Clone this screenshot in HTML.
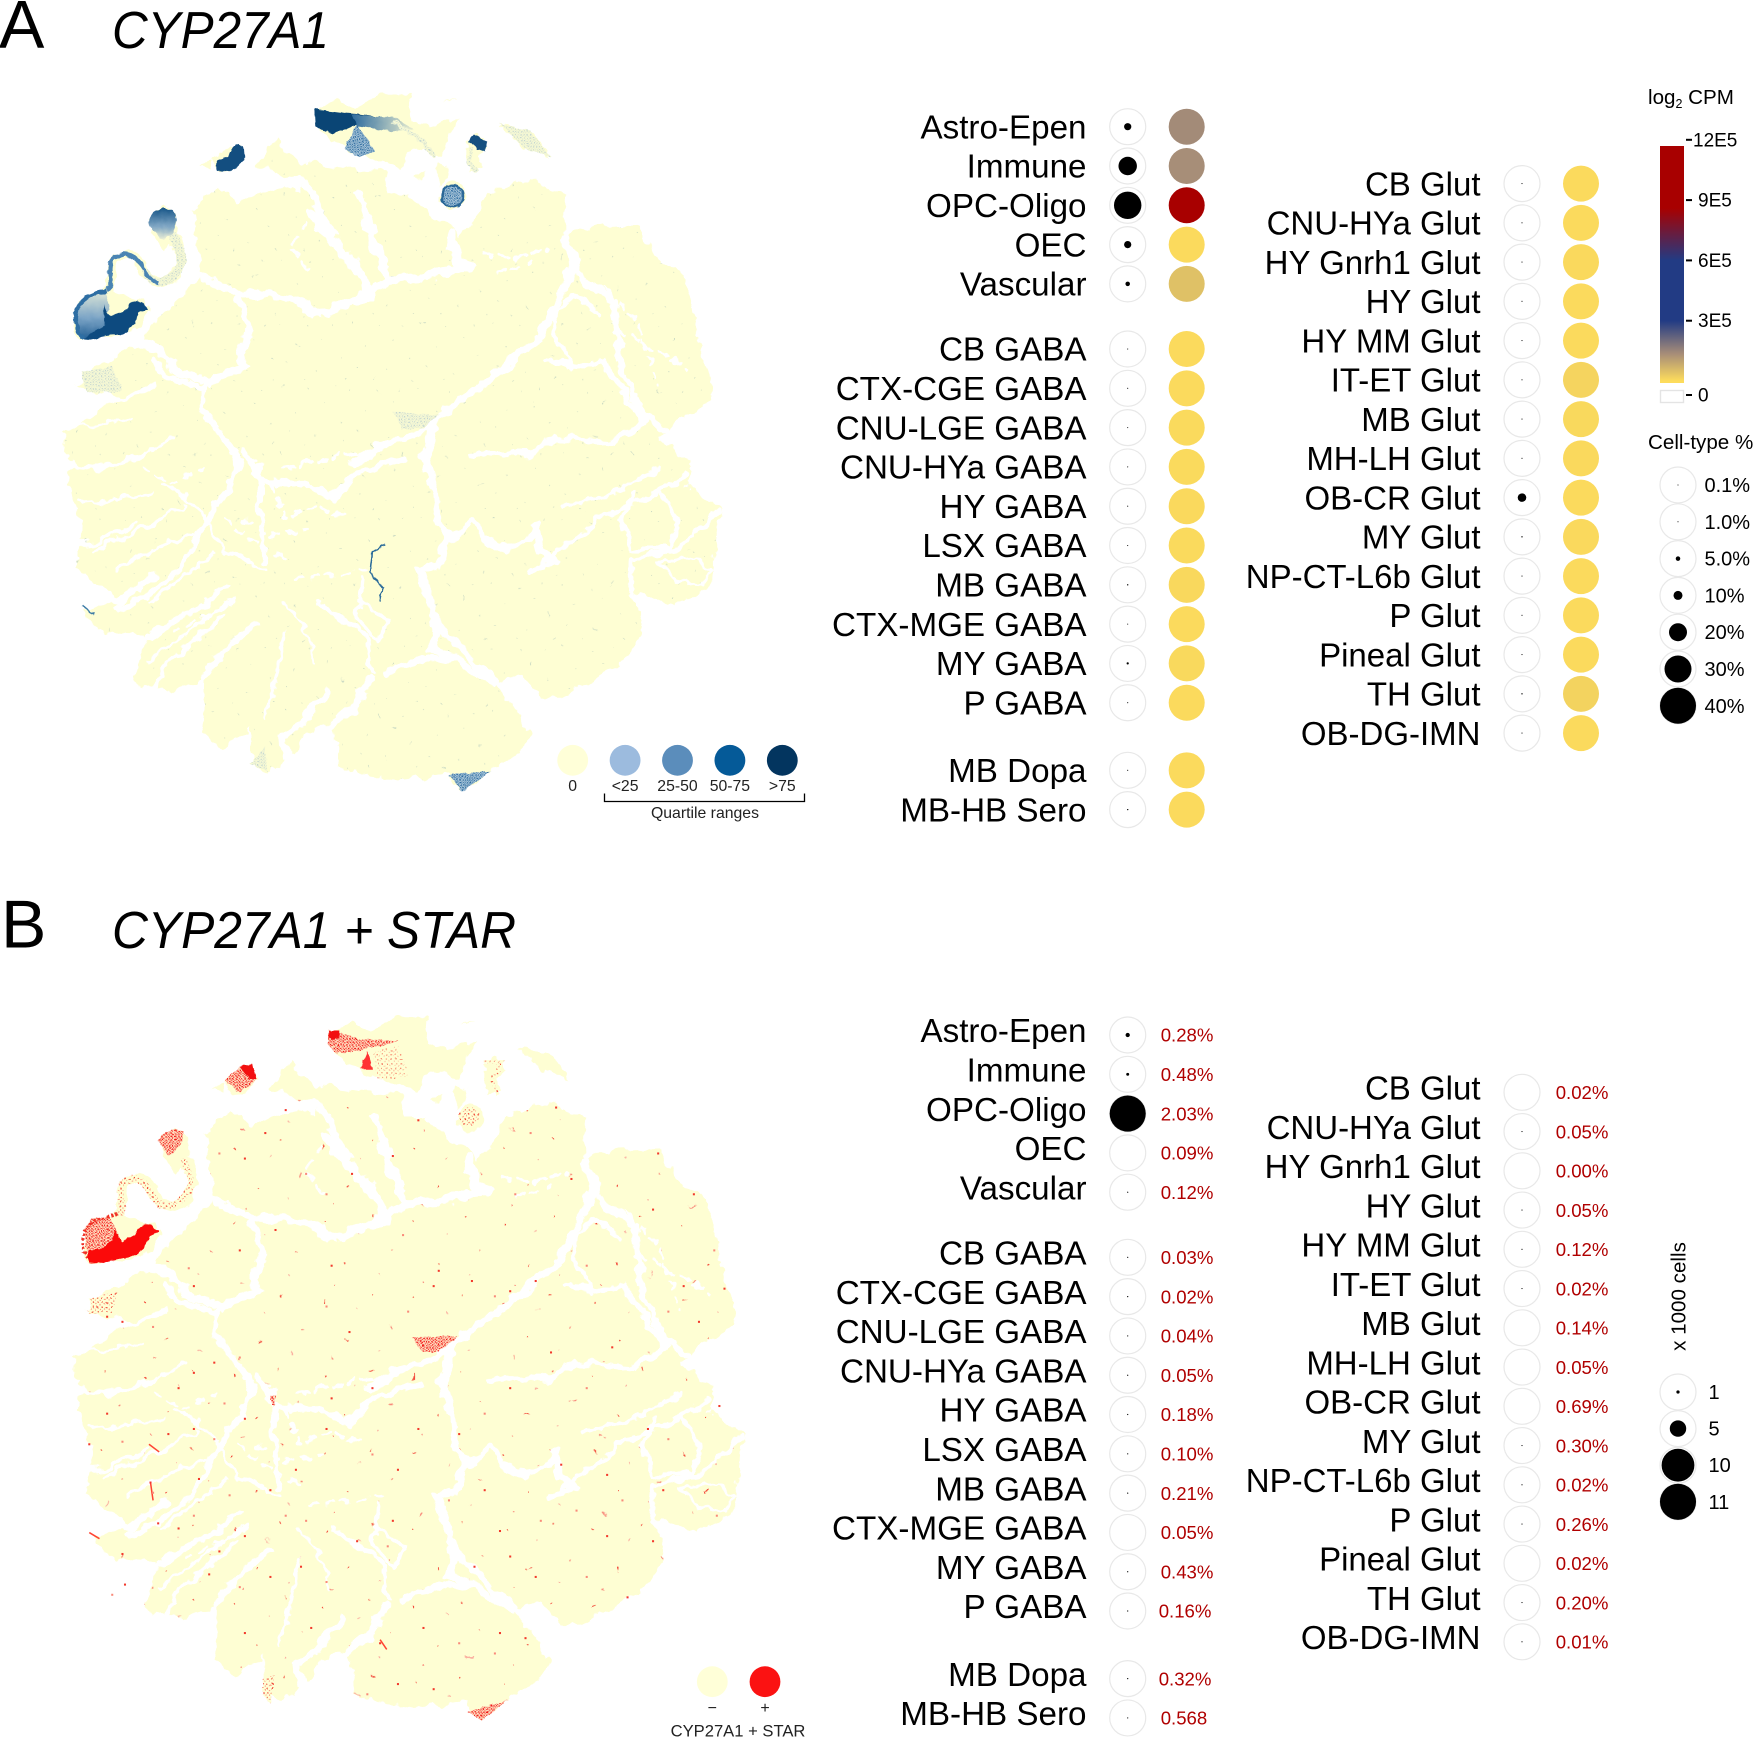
<!DOCTYPE html>
<html lang="en">
<head>
<meta charset="utf-8">
<title>CYP27A1 expression map and dot plots</title>
<style>
html,body{margin:0;padding:0;background:#fff;}
svg{display:block;font-family:"Liberation Sans",Arial,sans-serif;}
</style>
</head>
<body>
<svg id="fig" xmlns="http://www.w3.org/2000/svg" width="1753" height="1737" viewBox="0 0 1753 1737">
  <defs>
    <filter id="rough" x="-6%" y="-6%" width="112%" height="112%" color-interpolation-filters="sRGB">
      <feTurbulence type="fractalNoise" baseFrequency="0.035" numOctaves="3" seed="4" result="n"/>
      <feDisplacementMap in="SourceGraphic" in2="n" scale="26" xChannelSelector="R" yChannelSelector="G"/>
    </filter>
    <filter id="roughSmall" x="-6%" y="-6%" width="112%" height="112%" color-interpolation-filters="sRGB">
      <feTurbulence type="fractalNoise" baseFrequency="0.07" numOctaves="2" seed="9" result="n"/>
      <feDisplacementMap in="SourceGraphic" in2="n" scale="9" xChannelSelector="R" yChannelSelector="G"/>
    </filter>
    <pattern id="blueDots" width="5" height="5" patternUnits="userSpaceOnUse">
      <rect width="5" height="5" fill="#a9c4d8"/>
      <rect x="0" y="0" width="2.5" height="2.5" fill="#2d6c9f"/>
      <rect x="2.5" y="2.5" width="2" height="2" fill="#4f8ab5"/>
    </pattern>
    <pattern id="paleBlueDots" width="6" height="6" patternUnits="userSpaceOnUse">
      <rect width="6" height="6" fill="#f5f8d4"/>
      <rect x="1" y="1" width="2" height="2" fill="#b4cad0"/>
      <rect x="4" y="4" width="1.4" height="1.4" fill="#c9d9d0"/>
    </pattern>
    <pattern id="sparseBlue" width="137" height="127" patternUnits="userSpaceOnUse" fill="#c6d6c2">
      <rect x="4" y="7" width="2" height="2"/>
      <rect x="31" y="52" width="2" height="2"/>
      <rect x="57" y="14" width="2" height="2"/>
      <rect x="86" y="39" width="2" height="2"/>
      <rect x="14" y="89" width="2" height="2"/>
      <rect x="72" y="101" width="2" height="2"/>
      <rect x="118" y="71" width="2" height="2"/>
      <rect x="103" y="9" width="2" height="2"/>
      <rect x="46" y="118" width="2" height="2"/>
      <rect x="128" y="116" width="2" height="2"/>
    </pattern>
    <pattern id="redDots" width="6" height="6" patternUnits="userSpaceOnUse">
      <rect width="6" height="6" fill="#ffe0c0"/>
      <rect x="0" y="0" width="2.8" height="2.8" fill="#f01818"/>
      <rect x="3" y="3" width="2.2" height="2.2" fill="#f82020"/>
    </pattern>
    <pattern id="paleRedDots" width="9" height="9" patternUnits="userSpaceOnUse">
      <rect width="9" height="9" fill="#ffffd4"/>
      <rect x="1" y="1" width="2.6" height="2.6" fill="#f03a2c"/>
      <rect x="6" y="5" width="2" height="2" fill="#f8786a"/>
    </pattern>
    <pattern id="sparseRed" width="173" height="149" patternUnits="userSpaceOnUse">
      <rect x="5" y="9" width="3" height="3" fill="#f2493a"/>
      <rect x="41" y="74" width="3" height="3" fill="#f8897a"/>
      <rect x="86" y="22" width="3" height="3" fill="#f2493a"/>
      <rect x="19" y="120" width="3" height="3" fill="#fab0a0"/>
      <rect x="131" y="97" width="3" height="3" fill="#f2493a"/>
      <rect x="103" y="136" width="3" height="3" fill="#f8897a"/>
      <rect x="150" y="41" width="3" height="3" fill="#fab0a0"/>
    </pattern>
    <path id="tsneBody" d="M150,640 L190,600 L270,560 L300,520 L370,450 L395,420 L375,290 L430,250 L470,285 L530,250 L590,258 L600,240 L505,205 L540,155 L590,200 L640,205 L750,220 L760,262 L800,262 L850,310 L905,345 L960,260 L1040,230 L1105,270 L1105,350 L1130,330 L1250,325 L1290,395 L1340,420 L1365,530 L1392,630 L1395,670 L1340,700 L1310,725 L1290,740 L1360,800 L1345,830 L1410,880 L1395,1030 L1320,1070 L1270,1050 L1230,1040 L1265,1100 L1220,1180 L1100,1250 L1060,1250 L1030,1210 L970,1220 L1005,1265 L1040,1330 L1000,1370 L960,1400 L900,1430 L880,1400 L760,1410 L670,1390 L650,1300 L600,1320 L560,1370 L530,1400 L490,1380 L490,1310 L430,1350 L395,1320 L400,1270 L400,1210 L340,1240 L300,1230 L260,1220 L290,1130 L200,1120 L160,1080 L230,1060 L150,990 L160,900 L130,830 L150,790 L125,760 L125,730 L170,700 L230,660 Z"/>
    <g id="tsneGaps" fill="none" stroke="#fff" stroke-linecap="round" stroke-linejoin="round">
      <polyline stroke-width="16" points="395,425 470,458 530,462 590,475 620,500 700,470 760,430 830,425 900,408"/>
      <polyline stroke-width="15" points="470,470 490,530 470,575 480,600 410,632 350,612 310,570 270,552"/>
      <polyline stroke-width="12" points="300,590 330,620 400,645"/>
      <polyline stroke-width="10" points="170,670 240,665 300,640"/>
      <polyline stroke-width="20" points="610,300 650,350 710,420 720,460"/>
      <polyline stroke-width="14" points="470,235 600,240 625,290 650,340"/>
      <polyline stroke-width="16" points="705,262 730,350 760,420"/>
      <polyline stroke-width="20" points="885,345 895,395 920,402"/>
      <polyline stroke-width="15" points="1110,440 1060,540 1000,590 940,640 880,685 820,730 740,760 690,790"/>
      <polyline stroke-width="17" points="1108,350 1125,400 1108,440"/>
      <polyline stroke-width="13" points="1130,420 1200,470 1210,540 1220,610 1265,700 1310,730"/>
      <polyline stroke-width="11" points="1070,590 1140,600 1180,590 1230,660 1260,710 1200,750 1090,740 1040,770 950,770 920,780"/>
      <polyline stroke-width="16" points="850,720 830,780 850,840 860,900 880,940 860,990 820,1000 840,1050 860,1120 845,1150 900,1180 970,1220"/>
      <polyline stroke-width="12" points="880,940 930,900 950,940 1000,960 1050,930 1080,990 1040,1000"/>
      <polyline stroke-width="16" points="1050,910 1060,960 1090,985"/>
      <polyline stroke-width="9" points="1040,1000 1100,960 1170,900 1290,850 1345,810"/>
      <polyline stroke-width="8" points="1100,880 1200,850 1290,800"/>
      <polyline stroke-width="9" points="1235,1040 1240,980 1330,960 1405,885"/>
      <polyline stroke-width="9" points="1240,850 1220,900 1240,960 1310,960 1330,900 1290,850"/>
      <polyline stroke-width="6" points="1290,985 1360,975 1395,1000 1375,1030 1330,1020 1290,985"/>
      <polyline stroke-width="12" points="850,1100 930,1180 975,1215"/>
      <polyline stroke-width="12" points="400,640 390,680 440,740 470,790 440,850 390,930 350,1000 290,1050 230,1075"/>
      <polyline stroke-width="12" points="470,760 520,830 600,830 650,860 700,810 790,780"/>
      <polyline stroke-width="11" points="510,800 510,880 520,980"/>
      <polyline stroke-width="10" points="450,1030 360,1090 290,1130"/>
      <polyline stroke-width="9" points="440,1090 340,1170 300,1230"/>
      <polyline stroke-width="12" points="500,1100 420,1180 400,1210"/>
      <polyline stroke-width="16" points="640,1240 590,1300 555,1330 560,1370"/>
      <polyline stroke-width="16" points="720,1210 700,1270 650,1300"/>
      <polyline stroke-width="9" points="700,1060 760,1100 740,1140 700,1090 710,1020"/>
      <polyline stroke-width="13" points="760,1200 840,1170 900,1180"/>
      <polyline stroke-width="9" points="620,1060 720,1130 730,1200"/>
      <polyline stroke-width="7" points="320,830 390,880 440,960 520,1000"/>
      <polyline stroke-width="7" points="190,800 290,770 340,740"/>
      <polyline stroke-width="7" points="180,960 280,920 360,870"/>
      <polyline stroke-width="8" points="1180,500 1120,460 1090,500 1085,540 1120,590"/>
      <polyline stroke-width="7" points="230,1000 300,960 380,930"/>
      <polyline stroke-width="6" points="160,870 240,860 300,850"/>
      <polyline stroke-width="7" points="300,1060 350,1020 420,970"/>
      <polyline stroke-width="7" points="290,1180 370,1120 450,1060"/>
      <polyline stroke-width="7" points="520,1290 540,1220 560,1120"/>
      <polyline stroke-width="6" points="620,1180 600,1120 560,1060"/>
      <polyline stroke-width="9" points="105,790 200,800 280,770"/>
      <polyline stroke-width="8" points="115,950 190,945 270,910"/>
      <polyline stroke-width="13" points="130,1040 230,1062 300,1010"/>
      <polyline stroke-width="5" points="105,700 180,720 260,700"/>
      <g stroke-dasharray="16 15">
        <polyline stroke-width="7" points="950,380 1010,390 1075,370"/>
        <polyline stroke-width="6" points="975,420 1040,400"/>
        <polyline stroke-width="7" points="1210,530 1290,570 1350,610"/>
        <polyline stroke-width="6" points="1190,450 1250,520 1290,640"/>
        <polyline stroke-width="7" points="530,830 560,900 620,870 680,900"/>
        <polyline stroke-width="7" points="560,800 640,780 720,770"/>
        <polyline stroke-width="6" points="480,900 530,930 600,920"/>
        <polyline stroke-width="6" points="440,900 500,950 560,980"/>
        <polyline stroke-width="6" points="580,1020 650,1010 720,1000"/>
        <polyline stroke-width="6" points="600,320 570,370 600,410"/>
        <polyline stroke-width="6" points="340,1120 400,1090 470,1050"/>
        <polyline stroke-width="6" points="280,800 340,830 400,800"/>
      </g>
    </g>
    <g id="tsneIslands" fill="#fefed3">
      <path d="M618,100 L660,75 L690,100 L740,70 L800,70 L810,120 L840,130 L905,115 L870,160 L855,190 L820,170 L780,210 L720,190 L680,175 L625,135 Z"/>
      <path d="M415,195 L470,165 L480,190 L450,220 L420,215 Z"/>
      <path d="M390,205 L415,200 L410,220 Z"/>
      <path d="M915,160 L940,148 L955,170 L935,190 L950,215 L920,220 L915,190 Z"/>
      <circle cx="887" cy="265" r="24"/>
      <path d="M980,125 L1040,140 L1080,190 L1030,175 Z"/>
      <path d="M812,222 L835,220 L830,235 Z"/>
      <path d="M860,200 L885,205 L860,255 Z"/>
      <path d="M885,75 L895,70 L870,90 Z"/>
      <path d="M145,505 C148,475 170,458 205,452 L280,470 L290,490 L270,525 L240,540 L200,537 L165,550 L148,530 Z"/>
      <path d="M290,310 L320,287 L345,300 L345,345 L325,370 L300,350 Z"/>
      <path d="M210,450 C230,440 205,410 222,390 C245,370 270,385 285,415 C300,445 330,440 350,410 C365,385 345,360 340,345" fill="none" stroke="#fefed3" stroke-width="18" stroke-linecap="round"/>
    </g>
    <linearGradient id="blobBlue" x1="0" y1="0" x2="0" y2="1">
      <stop offset="0" stop-color="#dfe8d8"/><stop offset=".55" stop-color="#7ba4c6"/><stop offset="1" stop-color="#1c5a90"/>
    </linearGradient>
    <linearGradient id="headBlue" x1="0" y1="0" x2="0" y2="1">
      <stop offset="0" stop-color="#195789"/><stop offset=".6" stop-color="#7fa6c4"/><stop offset="1" stop-color="#edf0d6"/>
    </linearGradient>
    <linearGradient id="topFade" x1="0" y1="0" x2="1" y2="0">
      <stop offset="0" stop-color="#2f6c9e"/><stop offset="1" stop-color="#e8edd0"/>
    </linearGradient>
  </defs>

  <text x="-1" y="47.5" font-size="68">A</text>
  <text x="112" y="48" font-size="52" font-style="italic" textLength="217" lengthAdjust="spacingAndGlyphs">CYP27A1</text>
  <text x="1" y="947.7" font-size="68">B</text>
  <text x="112" y="948" font-size="52" font-style="italic" textLength="404" lengthAdjust="spacingAndGlyphs">CYP27A1 + STAR</text>

  <g id="mapA" transform="translate(0,60) scale(.5102)">
    <g filter="url(#rough)">
      <use href="#tsneBody" fill="#fefed3"/>
      <use href="#tsneBody" fill="url(#sparseBlue)"/>
      <use href="#tsneGaps"/>
      <use href="#tsneIslands"/>
    </g>
    <g filter="url(#roughSmall)">
      <path fill="url(#blobBlue)" d="M145,505 C148,475 170,458 205,452 L215,480 L205,530 L165,550 L148,530 Z"/>
      <path fill="none" stroke="#2e6ea3" stroke-width="8" d="M165,547 C145,530 140,490 165,470 C175,460 195,456 210,452"/>
      <path fill="#0d4a7f" d="M205,480 L215,502 L248,490 C255,470 270,462 290,488 L272,495 C265,520 250,538 225,540 C200,538 180,552 165,550 C175,535 195,525 205,520 Z"/>
      <path fill="none" stroke="url(#paleBlueDots)" stroke-width="16" stroke-linecap="round" d="M285,415 C300,445 330,440 350,410 C365,385 345,360 340,345"/>
      <path fill="none" stroke="#4a84b3" stroke-width="8" d="M210,450 C230,440 205,410 222,390 C245,370 270,385 285,415 C292,428 300,435 310,438"/>
      <path fill="url(#headBlue)" d="M290,315 C295,295 320,285 340,295 C348,310 345,330 335,345 L315,350 L300,335 Z"/>
      <path fill="#0a4575" d="M618,97 L680,105 L735,110 L680,135 L650,145 L620,130 Z"/>
      <path fill="url(#blueDots)" d="M675,175 L700,125 L735,180 L705,190 Z"/>
      <path fill="url(#topFade)" d="M690,108 L770,112 L810,135 L770,140 L700,130 Z"/>
      <polyline fill="none" stroke="url(#paleBlueDots)" stroke-width="8" points="770,120 830,160 850,190"/>
      <path fill="#134e80" d="M425,195 L445,190 L460,165 L478,170 L480,195 L450,220 L425,215 Z"/>
      <path fill="#154f80" d="M915,160 L930,147 L955,160 L950,180 L935,175 L925,160 Z"/>
      <polyline fill="none" stroke="url(#paleBlueDots)" stroke-width="7" points="925,170 918,200 935,220"/>
      <circle cx="887" cy="267" r="21" fill="url(#blueDots)" stroke="#2a6797" stroke-width="4"/>
      <path fill="url(#paleBlueDots)" d="M980,125 L1040,140 L1080,190 L1030,175 Z"/>
      <path fill="url(#paleBlueDots)" d="M770,690 L860,695 L830,720 L790,725 Z"/>
      <path fill="url(#paleBlueDots)" d="M160,610 L220,600 L240,650 L170,650 Z"/>
      <path fill="url(#paleBlueDots)" d="M490,1380 L520,1345 L525,1395 Z"/>
      <path fill="url(#blueDots)" d="M880,1400 L960,1395 L905,1435 Z"/>
      <polyline fill="none" stroke="#2a6b9a" stroke-width="3" points="755,950 730,965 725,1005 750,1035 745,1060"/>
      <polyline fill="none" stroke="#3c7ba5" stroke-width="3" points="160,1070 185,1085"/>
    </g>
  </g>

  <g id="mapB" transform="translate(8.67,982.3) scale(.5204,.5139)">
    <g filter="url(#rough)">
      <use href="#tsneBody" fill="#fefed3"/>
      <use href="#tsneBody" fill="url(#sparseRed)"/>
      <use href="#tsneGaps"/>
      <use href="#tsneIslands"/>
    </g>
  </g>
  <g id="overlayB" transform="translate(0,980) scale(.5102)">
    <g filter="url(#roughSmall)">
      <path fill="url(#redDots)" d="M165,490 C170,470 190,462 215,465 L235,505 L215,535 L172,540 Z"/>
      <path fill="none" stroke="#f03025" stroke-width="6" stroke-dasharray="5 4" d="M172,545 C158,525 158,490 180,475 C195,465 215,465 235,455"/>
      <path fill="#fb0a0a" d="M225,490 L238,515 L265,500 C272,482 288,468 311,494 L292,503 C285,525 270,540 245,545 C220,545 195,558 178,555 C170,545 170,535 175,528 C195,530 215,525 225,490 Z"/>
      <path fill="none" stroke="url(#paleRedDots)" stroke-width="13" stroke-linecap="round" d="M235,455 C250,445 225,420 240,400 C262,378 285,395 300,425 C315,455 345,445 365,420 C385,395 365,370 360,355"/>
      <path fill="url(#redDots)" d="M310,315 C320,298 340,288 360,295 C362,315 350,335 330,345 Z"/>
      <path fill="url(#redDots)" d="M645,97 L700,115 L780,120 L720,135 L660,145 L642,125 Z"/>
      <path fill="#f21010" d="M645,99 L665,99 L665,115 L645,115 Z"/>
      <path fill="#f33" d="M705,175 L720,140 L730,175 Z"/>
      <path fill="url(#paleRedDots)" d="M730,140 L780,130 L800,190 L740,195 Z" opacity=".6"/>
      <path fill="url(#redDots)" d="M440,195 L470,170 L495,165 L503,195 L470,222 Z"/>
      <path fill="#f21010" d="M470,170 L495,165 L503,195 L490,195 Z"/>
      <circle cx="920" cy="268" r="20" fill="url(#paleRedDots)"/>
      <polyline fill="none" stroke="url(#paleRedDots)" stroke-width="6" points="950,160 985,160 965,195 975,225"/>
      <path fill="url(#redDots)" d="M805,700 L897,698 L860,728 L830,730 Z"/>
      <path fill="url(#paleRedDots)" d="M175,625 L230,610 L220,650 L175,655 Z"/>
      <path fill="url(#redDots)" d="M915,1435 L995,1412 L945,1450 Z"/>
      <path fill="url(#paleRedDots)" d="M515,1370 L540,1360 L530,1420 L515,1400 Z"/>
      <path fill="url(#redDots)" d="M530,815 L542,815 L536,835 Z"/>
    </g>
    <polyline fill="none" stroke="#f43" stroke-width="3" points="295,985 300,1020"/>
    <polyline fill="none" stroke="#f43" stroke-width="3" points="175,1083 195,1095"/>
    <polyline fill="none" stroke="#f43" stroke-width="3" points="292,910 312,925"/>
    <polyline fill="none" stroke="#f43" stroke-width="3" points="745,1293 758,1312"/>
  </g>

  <g id="legendMapA">
    <path d="M604.5,793.5 V801.5 H804.5 V793.5" fill="none" stroke="#000" stroke-width="1.3"/>
    <text x="705" y="818" font-size="15.8" text-anchor="middle" fill="#222">Quartile ranges</text>
  </g>
  <g id="legendMapB">
    <circle cx="712.3" cy="1681.7" r="15.4" fill="#ffffd8"/>
    <circle cx="765" cy="1681.7" r="15.4" fill="#fb1212"/>
    <text x="712.3" y="1713" font-size="16" text-anchor="middle" fill="#222">−</text>
    <text x="765" y="1713" font-size="16" text-anchor="middle" fill="#222">+</text>
    <text x="738" y="1736.5" font-size="16.6" text-anchor="middle" fill="#222">CYP27A1 + STAR</text>
  </g>

  <text x="1648" y="104" font-size="20.6">log<tspan font-size="12.5" dy="4">2</tspan><tspan dy="-4"> CPM</tspan></text>
  <text x="1648" y="449" font-size="20.6">Cell-type %</text>
  <text transform="translate(1685.5,1296.5) rotate(-90)" font-size="20.6" text-anchor="middle">x 1000 cells</text>
  <g id="plots"></g>
</svg>

<script>
// Dot-plot categories
const leftCategories = ["Astro-Epen","Immune","OPC-Oligo","OEC","Vascular","CB GABA","CTX-CGE GABA","CNU-LGE GABA","CNU-HYa GABA","HY GABA","LSX GABA","MB GABA","CTX-MGE GABA","MY GABA","P GABA","MB Dopa","MB-HB Sero"];
const rightCategories = ["CB Glut","CNU-HYa Glut","HY Gnrh1 Glut","HY Glut","HY MM Glut","IT-ET Glut","MB Glut","MH-LH Glut","OB-CR Glut","MY Glut","NP-CT-L6b Glut","P Glut","Pineal Glut","TH Glut","OB-DG-IMN"];
// Panel A: percent of cell type expressing
const leftCellTypePct = [8,20.5,30.5,8,5,1,0.5,0.5,0.7,0.7,0.8,1.5,0.3,2.5,1,1,1.5];
const rightCellTypePct = [0.3,0.7,1,0.5,0.4,0.3,1,0.7,9.5,1.5,0.3,1,0.3,1.5,0.3];
// Panel A: mean expression (units of 1E5 CPM)
const leftCpm = [1.4,1.35,11,0.03,0.47,0.03,0.03,0.04,0.04,0.05,0.04,0.07,0.03,0.06,0.03,0.03,0.03];
const rightCpm = [0.03,0.03,0.05,0.03,0.03,0.13,0.06,0.05,0.03,0.05,0.03,0.03,0.03,0.16,0.03];
// Panel B: double-positive cells (x 1000)
const leftCells = [1.3,0.9,11,0,0.2,0.2,0.2,0.2,0.2,0.2,0.2,0.2,0,0.2,0.2,0.2,0.2];
const rightCells = [0,0.2,0,0.2,0.2,0.2,0,0,0,0.3,0.2,0.2,0,0.25,0.2];
const leftShareLabels = ["0.28%","0.48%","2.03%","0.09%","0.12%","0.03%","0.02%","0.04%","0.05%","0.18%","0.10%","0.21%","0.05%","0.43%","0.16%","0.32%","0.568"];
const rightShareLabels = ["0.02%","0.05%","0.00%","0.05%","0.12%","0.02%","0.14%","0.05%","0.69%","0.30%","0.02%","0.26%","0.02%","0.20%","0.01%"];
// Legends
const cellTypeLegendValues = [0.1,1,5,10,20,30,40];
const cellTypeLegendLabels = ["0.1%","1.0%","5.0%","10%","20%","30%","40%"];
const cellCountLegendValues = [1,5,10,11];
const cellCountLegendLabels = ["1","5","10","11"];
const cpmTickValues = [0,3,6,9,12];
const cpmTickLabels = ["0","3E5","6E5","9E5","12E5"];
const quartileLabels = ["0","<25","25-50","50-75",">75"];
const quartileColors = ["#ffffd8","#9cbbde","#5b8dbb","#055a98","#03355f"];
// Colour ramp: expression (1E5 CPM) and colour
const rampValues = [0,1.34,3,6,8.6,12];
const rampColors = ["#fddc5c","#a88e78","#223b84","#223b84","#a80000","#a80000"];
// tSNE coordinates of scattered double-positive cells
const tsne1 = [430,480,560,640,690,520,600,820,770,1040,1090,1120,1010,1290,1360,1400,1280,1340,1310,1370,1420,1150,1050,1000,970,925,860,790,650,685,640,540,470,370,380,210,300,240,420,470,380,350,440,210,175,240,330,380,420,480,530,560,480,430,380,350,310,300,295,240,220,245,410,470,530,590,640,700,770,760,745,830,900,980,1030,970,780,850,720,610,480,600,650,730,800,850,900,880,950,1000,1060,1100,1190,1220,1230,1280,1150,1050,980,1130,1190,930,1405,1300,1410,1150,1080,1200,1310,1270,1000,950,820,780,730,640,580,450,390];
const tsne2 = [340,350,255,420,380,300,380,275,345,300,250,390,420,340,420,530,450,600,650,670,605,560,590,610,620,590,570,500,560,690,640,490,530,565,600,660,680,670,750,740,770,800,830,850,910,905,890,880,900,860,1000,1050,1090,1120,1050,1075,1065,1005,985,1125,1205,1185,1165,1190,1170,1150,1180,1100,1060,1110,1300,1270,1300,1280,1290,1320,1380,1390,1400,1270,1280,1060,820,800,650,600,890,1020,1000,1130,1060,950,970,1020,1210,1100,1170,1170,1080,1040,1090,1150,1050,1000,835,800,730,720,900,880,800,850,880,960,930,880,960,1010,978];

const NS = "http://www.w3.org/2000/svg";
const plots = document.getElementById("plots");
const overlayB = document.getElementById("overlayB");
const legendMapA = document.getElementById("legendMapA");

function make(tag, attrs, parent, txt) {
  const el = document.createElementNS(NS, tag);
  for (const k in attrs) el.setAttribute(k, attrs[k]);
  if (txt !== undefined) el.textContent = txt;
  (parent || plots).appendChild(el);
  return el;
}
function slug(s) { return s.toLowerCase().replace(/[^a-z0-9]+/g, "-"); }

// Axis functions
const rowStep = 39.3;
function yLeft(i, base) { return base + rowStep * (i + (i >= 5 ? 0.657 : 0) + (i >= 15 ? 0.72 : 0)); }
function yRight(i, base) { return base + 39.25 * i; }
const radiusPct = v => Math.max(0.55, 0.45 * v);
const radiusCells = v => v <= 0 ? 0 : Math.max(0.6, 1.64 * v);
const yCpm = v => 381 - 20.1 * v;
const yTick = v => v === 0 ? 395 : yCpm(v);

function hex(c) { return [1, 3, 5].map(p => parseInt(c.substr(p, 2), 16)); }
function cpmColor(v) {
  if (v <= rampValues[0]) return rampColors[0];
  for (let i = 1; i < rampValues.length; i++) {
    if (v <= rampValues[i]) {
      const t = (v - rampValues[i - 1]) / (rampValues[i] - rampValues[i - 1]);
      const a = hex(rampColors[i - 1]), b = hex(rampColors[i]);
      return "rgb(" + a.map((x, j) => Math.round(x + (b[j] - x) * t)).join(",") + ")";
    }
  }
  return rampColors[rampColors.length - 1];
}

function drawRow(cat, y, labelY, xLabel, xDot, r, pane, size) {
  const label = make("text", {x: xLabel, y: labelY + 11.7, "font-size": size, "text-anchor": "end"}, plots, cat);
  
  
  const ring = make("circle", {cx: xDot, cy: y, r: 18, fill: "#fff", stroke: "#e8e8e8", "stroke-width": 1.2});
  
  
  if (r > 0) {
    const dot = make("circle", {cx: xDot, cy: y, r: r, fill: "#000"});
    
    
  }
}
function drawExpr(cat, y, x, v) {
  const c = make("circle", {cx: x, cy: y, r: 18, fill: cpmColor(v)});
  
  
}
function drawShare(cat, y, x, txt) {
  const t = make("text", {x: x, y: y + 6.7, "font-size": 18.6, fill: "#b00000"}, plots, txt);
  
  
}

// Panel A
leftCategories.forEach((cat, i) => {
  const y = yLeft(i, 126.7);
  drawRow(cat, y, y, 1086.5, 1127.7, radiusPct(leftCellTypePct[i]), "a", 33.2);
  drawExpr(cat, y, 1186.7, leftCpm[i]);
});
rightCategories.forEach((cat, i) => {
  const y = yRight(i, 183.6);
  drawRow(cat, y, y, 1480.5, 1522, radiusPct(rightCellTypePct[i]), "a", 33);
  drawExpr(cat, y, 1581, rightCpm[i]);
});
// Panel B
leftCategories.forEach((cat, i) => {
  const y = yLeft(i, 1035);
  drawRow(cat, y, y - 4.5, 1086.5, 1127.7, radiusCells(leftCells[i]), "b", 33.2);
  drawShare(cat, y, (i === 14 || i === 15) ? 1158.7 : 1160.7, leftShareLabels[i]);
});
rightCategories.forEach((cat, i) => {
  const y = yRight(i, 1092.3);
  drawRow(cat, y, y - 4.5, 1480.5, 1522, radiusCells(rightCells[i]), "b", 33);
  drawShare(cat, y, 1555.7, rightShareLabels[i]);
});

// Colour bar
const grad = make("linearGradient", {id: "cpmGrad", gradientUnits: "userSpaceOnUse", x1: 0, x2: 0, y1: yCpm(12), y2: yCpm(0)});
for (let i = rampValues.length - 1; i >= 0; i--) {
  make("stop", {offset: 1 - rampValues[i] / 12, "stop-color": rampColors[i]}, grad);
}
const bar = make("rect", {x: 1660, y: 146, width: 24, height: 237, fill: "url(#cpmGrad)"});


const zeroBox = make("rect", {x: 1660.5, y: 390.5, width: 23, height: 12, fill: "#fff", stroke: "#e4e4e4", "stroke-width": 1.4});


cpmTickValues.forEach((v, i) => {
  const y = yTick(v);
  const tick = make("rect", {x: 1686, y: y - 1, width: 6, height: 2, fill: "#000"});
  
  
  const t = make("text", {x: v === 12 ? 1693 : 1698, y: y + 6.5, "font-size": 19}, plots, cpmTickLabels[i]);
  
  
});

// Size legends
cellTypeLegendValues.forEach((v, i) => {
  const y = 485 + 36.8 * i;
  const ring = make("circle", {cx: 1678, cy: y, r: 18, fill: "#fff", stroke: "#e8e8e8", "stroke-width": 1.2});
  
  
  const dot = make("circle", {cx: 1678, cy: y, r: radiusPct(v), fill: "#000"});
  
  
  const t = make("text", {x: 1704.5, y: y + 7, "font-size": 20}, plots, cellTypeLegendLabels[i]);
  
  
});
cellCountLegendValues.forEach((v, i) => {
  const y = 1392 + 36.6 * i;
  const ring = make("circle", {cx: 1678, cy: y, r: 18, fill: "#fff", stroke: "#e8e8e8", "stroke-width": 1.2});
  
  
  const dot = make("circle", {cx: 1678, cy: y, r: radiusCells(v), fill: "#000"});
  
  
  const t = make("text", {x: 1708.5, y: y + 7, "font-size": 20}, plots, cellCountLegendLabels[i]);
  
  
});

// Quartile legend
quartileLabels.forEach((lab, i) => {
  const x = 572.7 + 52.4 * i;
  const c = make("circle", {cx: x, cy: 760.3, r: 15.4, fill: quartileColors[i]}, legendMapA);
  
  
  const t = make("text", {x: x, y: 791, "font-size": 15.8, "text-anchor": "middle", fill: "#222"}, legendMapA, lab);
  
  
});

// Scattered double-positive cells on map B
tsne1.forEach((x, i) => {
  const p = make("rect", {x: x - 2, y: tsne2[i] - 2, width: 4, height: 4, fill: i % 3 ? "#f2392c" : "#f98a7a"}, overlayB);
  
  
});
</script>
</body>
</html>
